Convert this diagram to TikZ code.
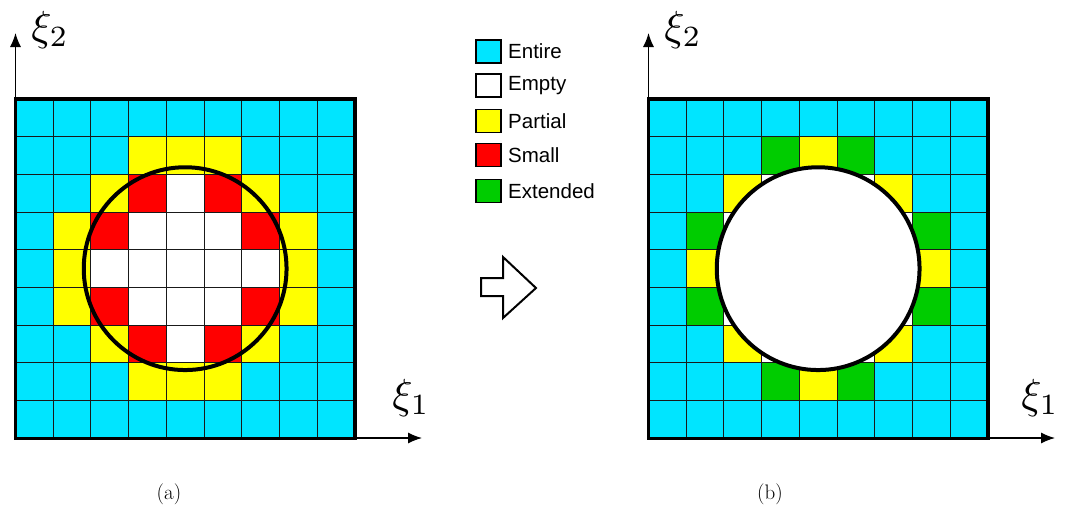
\documentclass[tikz,border=0pt]{standalone}
\usepackage{fontspec}
\setsansfont{Liberation Sans}
\usetikzlibrary{arrows.meta}
\definecolor{cE}{RGB}{0,229,255}
\definecolor{cW}{RGB}{255,255,255}
\definecolor{cP}{RGB}{255,255,0}
\definecolor{cS}{RGB}{255,0,0}
\definecolor{cX}{RGB}{0,204,0}
\newcommand{\cellsz}{37.7}
\newcommand{\cellgrid}[3]{%
  \foreach \row [count=\j from 0] in {#3} {
    \foreach \c [count=\i from 0] in \row {
      \fill[\c] ({#1+\i*\cellsz},{#2+\j*\cellsz}) rectangle ++(\cellsz,\cellsz);
    }
  }
  \foreach \k in {1,...,8} {
    \draw[gridline] ({#1+\k*\cellsz},#2) -- ++(0,{9*\cellsz});
    \draw[gridline] (#1,{#2+\k*\cellsz}) -- ++({9*\cellsz},0);
  }
}
\newcommand{\biglabel}[1]{\scalebox{4.2}{$#1$}}
\begin{document}
\begin{tikzpicture}[x=1pt,y=-1pt,
  gridline/.style={line width=0.9pt,black!90},
  border/.style={line width=3.5pt,black},
  hole/.style={line width=4pt,black},
  axis/.style={line width=1.2pt,-{Latex[length=14pt,width=11pt]}},
  axlabel/.style={inner sep=0pt},
  legbox/.style={draw,line width=1.3pt,minimum width=25pt,minimum height=23pt,inner sep=0pt},
  legtext/.style={anchor=west,inner sep=0pt,font=\sffamily\fontsize{20.5}{24}\selectfont},
  caption/.style={inner sep=0pt,font=\fontsize{21}{25}\selectfont}]
\useasboundingbox (0,0) rectangle (1068,509);

% ---------- (a) ----------
\coordinate (oa) at (15.5,438);
\coordinate (ya) at (15.5,33);
\coordinate (xa) at (422,438);
\draw[axis] (oa) -- (ya);
\draw[axis] (oa) -- (xa);
\cellgrid{15.5}{99}{%
  {cE,cE,cE,cE,cE,cE,cE,cE,cE},
  {cE,cE,cE,cP,cP,cP,cE,cE,cE},
  {cE,cE,cP,cS,cW,cS,cP,cE,cE},
  {cE,cP,cS,cW,cW,cW,cS,cP,cE},
  {cE,cP,cW,cW,cW,cW,cW,cP,cE},
  {cE,cP,cS,cW,cW,cW,cS,cP,cE},
  {cE,cE,cP,cS,cW,cS,cP,cE,cE},
  {cE,cE,cE,cP,cP,cP,cE,cE,cE},
  {cE,cE,cE,cE,cE,cE,cE,cE,cE}}
\draw[hole] ({15.5+4.5*\cellsz},{99+4.5*\cellsz}) circle[radius=101.4];
\draw[border] (15.5,99) rectangle ++({9*\cellsz},{9*\cellsz});
\node[axlabel] (xi2a) at (50,30) {\biglabel{\xi_2}};
\node[axlabel] (xi1a) at (411,398) {\biglabel{\xi_1}};
\node[caption] (capa) at (169,494) {(a)};

% ---------- (b) ----------
\coordinate (ob) at (648.5,438);
\coordinate (yb) at (648.5,33);
\coordinate (xb) at (1055,438);
\draw[axis] (ob) -- (yb);
\draw[axis] (ob) -- (xb);
\cellgrid{648.5}{99}{%
  {cE,cE,cE,cE,cE,cE,cE,cE,cE},
  {cE,cE,cE,cX,cP,cX,cE,cE,cE},
  {cE,cE,cP,cW,cW,cW,cP,cE,cE},
  {cE,cX,cW,cW,cW,cW,cW,cX,cE},
  {cE,cP,cW,cW,cW,cW,cW,cP,cE},
  {cE,cX,cW,cW,cW,cW,cW,cX,cE},
  {cE,cE,cP,cW,cW,cW,cP,cE,cE},
  {cE,cE,cE,cX,cP,cX,cE,cE,cE},
  {cE,cE,cE,cE,cE,cE,cE,cE,cE}}
\draw[hole,fill=white] ({648.5+4.5*\cellsz},{99+4.5*\cellsz}) circle[radius=101.4];
\draw[border] (648.5,99) rectangle ++({9*\cellsz},{9*\cellsz});
\node[axlabel] (xi2b) at (683,30) {\biglabel{\xi_2}};
\node[axlabel] (xi1b) at (1040,398) {\biglabel{\xi_1}};
\node[caption] (capb) at (770,494) {(b)};

% ---------- legend ----------
\node[legbox,fill=cE] (lb1) at (488.5,51.5) {};
\node[legbox,fill=cW] (lb2) at (488.5,85.5) {};
\node[legbox,fill=cP] (lb3) at (488.5,121) {};
\node[legbox,fill=cS] (lb4) at (488.5,155) {};
\node[legbox,fill=cX] (lb5) at (488.5,191) {};
\node[legtext] (lt1) at (508,51.5) {Entire};
\node[legtext] (lt2) at (508,85.5) {Empty};
\node[legtext] (lt3) at (508,121) {Partial};
\node[legtext] (lt4) at (508,155) {Small};
\node[legtext] (lt5) at (508,191) {Extended};

% ---------- block arrow ----------
\draw[line width=2pt,fill=white,line join=miter] (481,278) -- (503,278) -- (503,257) -- (536,288) -- (503,318) -- (503,296) -- (481,296) -- cycle;
\end{tikzpicture}
\end{document}
